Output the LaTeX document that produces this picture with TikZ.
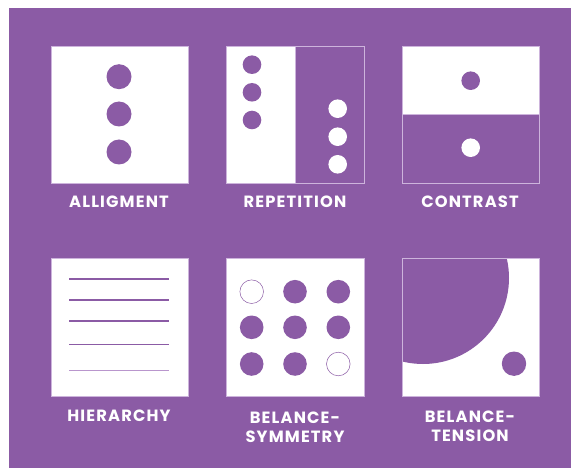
\documentclass[tikz,border=0pt]{standalone}
\usepackage{fontspec}
\setmainfont{Poppins}
\newfontfamily\capfont{Poppins}[LetterSpace=7]
\definecolor{plum}{RGB}{139,91,165}
\definecolor{lilac}{RGB}{205,180,220}
\definecolor{pale}{RGB}{185,150,205}
\begin{document}
\begin{tikzpicture}[x=1pt,y=-1pt,
  panel/.style={fill=white,draw=lilac,line width=0.6pt},
  darkhalf/.style={fill=plum,draw=lilac,line width=0.6pt},
  dot/.style={fill=plum},
  hole/.style={fill=white},
  ring/.style={fill=white,draw=plum,line width=0.5pt},
  caption/.style={text=white,font=\capfont\fontsize{16.3}{18}\selectfont\bfseries,align=center,inner sep=0pt},
  rule/.style={draw=plum,line cap=butt}]
  % canvas
  \path[fill=white] (0,0) rectangle (571,468);
  \useasboundingbox (0,0) rectangle (571,468);
  \path[fill=plum] (9,8) rectangle (571,468);

  % --- alignment
  \path[panel] (51,46) rectangle (188,183);
  \path[dot] (119,76.7) circle (12.5);
  \path[dot] (119,114) circle (12.5);
  \path[dot] (119,152) circle (12.5);
  \node[caption] (t1) at (119,202) {ALLIGMENT};

  % --- repetition
  \path[panel] (226,46) rectangle (295.3,183);
  \path[darkhalf] (295.3,46) rectangle (364,183);
  \path[dot] (252,64.7) circle (9.3);
  \path[dot] (252,92.3) circle (9.3);
  \path[dot] (252,120) circle (9.3);
  \path[hole] (337.7,108.7) circle (9.3);
  \path[hole] (337.7,136.7) circle (9.3);
  \path[hole] (337.7,164.3) circle (9.3);
  \node[caption] (t2) at (295,202) {REPETITION};

  % --- contrast
  \path[panel] (402,46) rectangle (539,114.3);
  \path[darkhalf] (402,114.3) rectangle (539,183);
  \path[dot] (470.7,80.7) circle (9.3);
  \path[hole] (470.7,147.7) circle (9.3);
  \node[caption] (t3) at (470,202) {CONTRAST};

  % --- hierarchy
  \path[panel] (51,258.5) rectangle (188,396);
  \draw[rule,line width=2.6pt] (69.3,279) -- (169,279);
  \draw[rule,line width=2.2pt] (69.3,300.3) -- (169,300.3);
  \draw[rule,line width=1.9pt] (69.3,320.7) -- (169,320.7);
  \draw[rule,line width=1.5pt] (69.3,344.3) -- (169,344.3);
  \draw[rule,draw=pale,line width=1.3pt] (69.3,370.7) -- (169,370.7);
  \node[caption] (t4) at (119,415.5) {HIERARCHY};

  % --- balance / symmetry
  \path[panel] (226,258.5) rectangle (364,396);
  \path[ring] (251.7,291.7) circle (11.8);
  \path[dot]  (295,291.7) circle (11.8);
  \path[dot]  (338.3,291.7) circle (11.8);
  \path[dot]  (251.7,327.3) circle (11.8);
  \path[dot]  (295,327.3) circle (11.8);
  \path[dot]  (338.3,327.3) circle (11.8);
  \path[dot]  (251.7,364) circle (11.8);
  \path[dot]  (295,364) circle (11.8);
  \path[ring] (338.3,364) circle (11.8);
  \node[caption] (t5) at (295,418) {BELANCE-};
  \node[caption] (t5b) at (295,437) {SYMMETRY};

  % --- balance / tension
  \path[panel] (402,258.5) rectangle (539,396.5);
  \begin{scope}
    \clip (402,258.5) rectangle (539,396.5);
    \path[dot] (423,278) circle (86);
  \end{scope}
  \draw[lilac,line width=0.6pt] (402,258.5) rectangle (539,396.5);
  \path[dot] (514,363.7) circle (12.2);
  \node[caption] (t6) at (470,416.5) {BELANCE-};
  \node[caption] (t6b) at (470,436) {TENSION};
\end{tikzpicture}
\end{document}
